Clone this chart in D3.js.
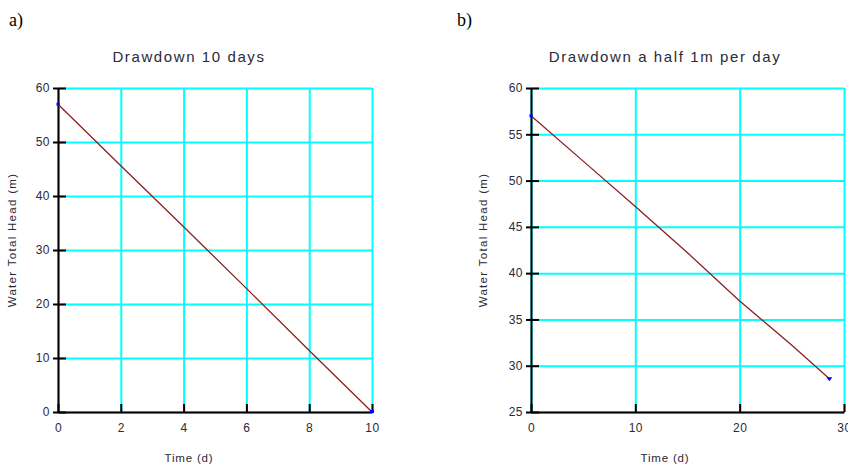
<!DOCTYPE html>
<html><head><meta charset="utf-8">
<script src="https://cdn.jsdelivr.net/npm/d3@7"></script>
<style>
body{margin:0;background:#fff;}
svg{display:block;}
text{font-family:"Liberation Sans",Arial,sans-serif;fill:#2a2a3a;}
</style></head>
<body>
<svg id="c" width="848" height="466"></svg>
<script>
// Panel a: Drawdown 10 days
const panelATitle = "Drawdown 10 days";
const panelATime = [0, 2, 4, 6, 8, 10];
const panelAHead = [57, 45.6, 34.3, 22.9, 11.4, 0];
const panelAXTicks = [0, 2, 4, 6, 8, 10];
const panelAYTicks = [0, 10, 20, 30, 40, 50, 60];
// Panel b: Drawdown a half 1m per day
const panelBTitle = "Drawdown a half 1m per day";
const panelBTime = [0, 5, 10, 15, 20, 25, 28.6];
const panelBHead = [57, 52.1, 47.2, 42.2, 37, 32.2, 28.6];
const panelBXTicks = [0, 10, 20, 30];
const panelBYTicks = [25, 30, 35, 40, 45, 50, 55, 60];
const xLabel = "Time (d)";
const yLabel = "Water Total Head (m)";
const panelLetters = ["a)", "b)"];

const svg = d3.select("#c");
const CYAN = "#00ffff", LINE = "#8b2020", MARK = "#0000ff";

function panel(o) {
  const g = svg.append("g");
  const x = d3.scaleLinear().domain(o.xDom).range([o.left, o.right]);
  const y = d3.scaleLinear().domain(o.yDom).range([o.bottom, o.top]);
  // grid
  g.append("g").attr("transform", `translate(${o.left},0)`)
    .call(d3.axisRight(y).tickValues(o.yTicks).tickSize(o.right - o.left).tickFormat(""))
    .call(s => { s.select(".domain").remove(); s.selectAll("line").attr("stroke", CYAN).attr("stroke-width", 2); });
  g.append("g").attr("transform", `translate(0,${o.bottom})`)
    .call(d3.axisTop(x).tickValues(o.xTicks).tickSize(o.bottom - o.top).tickFormat(""))
    .call(s => { s.select(".domain").remove(); s.selectAll("line").attr("stroke", CYAN).attr("stroke-width", 2); });
  // y axis: outward ticks with labels
  g.append("g").attr("transform", `translate(${o.left},0)`)
    .call(d3.axisLeft(y).tickValues(o.yTicks).tickSize(5).tickPadding(3).tickSizeOuter(0))
    .call(s => {
      s.select(".domain").attr("stroke", "#000").attr("stroke-width", 2);
      s.selectAll("line").attr("stroke", "#000").attr("stroke-width", 2);
      s.selectAll("text").style("font-size", "12px").style("letter-spacing", "0.5px")
        .style("font-family", '"Liberation Sans",Arial,sans-serif').attr("fill", "#2a2a3a");
    });
  // y axis inward ticks
  g.append("g").attr("transform", `translate(${o.left},0)`)
    .call(d3.axisRight(y).tickValues(o.yTicks).tickSize(8).tickFormat("").tickSizeOuter(0))
    .call(s => { s.select(".domain").remove(); s.selectAll("line").attr("stroke", "#000").attr("stroke-width", 2); });
  // x axis inward ticks + domain
  g.append("g").attr("transform", `translate(0,${o.bottom})`)
    .call(d3.axisTop(x).tickValues(o.xTicks).tickSize(8).tickFormat("").tickSizeOuter(0))
    .call(s => {
      s.select(".domain").attr("stroke", "#000").attr("stroke-width", 2);
      s.selectAll("line").attr("stroke", "#000").attr("stroke-width", 2);
    });
  // x labels
  g.append("g").attr("transform", `translate(0,${o.bottom})`)
    .call(d3.axisBottom(x).tickValues(o.xTicks).tickSize(0).tickPadding(11))
    .call(s => {
      s.select(".domain").remove();
      s.selectAll("text").style("font-size", "12px").style("letter-spacing", "0.5px")
        .style("font-family", '"Liberation Sans",Arial,sans-serif').attr("fill", "#2a2a3a");
    });
  // line
  const pts = o.xs.map((v, i) => [v, o.ys[i]]);
  g.append("path").datum(pts)
    .attr("d", d3.line().x(d => x(d[0])).y(d => y(d[1])))
    .attr("fill", "none").attr("stroke", LINE).attr("stroke-width", 1.3);
  // markers
  const first = pts[0], last = pts[pts.length - 1];
  g.append("rect").attr("x", x(first[0]) - 1.5).attr("y", y(first[1]) - 1.5)
    .attr("width", 3).attr("height", 3).attr("fill", MARK);
  if (o.endTri) {
    const cx = x(last[0]), cy = y(last[1]);
    g.append("path").attr("d", `M${cx-3},${cy-1.5}L${cx+3},${cy-1.5}L${cx},${cy+2.5}Z`).attr("fill", MARK);
  } else {
    g.append("rect").attr("x", x(last[0]) - 2).attr("y", y(last[1]) - 2)
      .attr("width", 4).attr("height", 3).attr("fill", MARK);
  }
  // texts
  g.append("text").attr("x", o.cx).attr("y", 62).attr("text-anchor", "middle")
    .style("font-size", "15px").style("letter-spacing", "1.6px").text(o.title);
  g.append("text").attr("x", o.cx).attr("y", 462).attr("text-anchor", "middle")
    .style("font-size", "11.5px").style("letter-spacing", "0.8px").text(xLabel);
  g.append("text").attr("transform", `translate(${o.ylx},240) rotate(-90)`).attr("text-anchor", "middle")
    .style("font-size", "11.5px").style("letter-spacing", "1.3px").text(yLabel);
  g.append("text").attr("x", o.letterX).attr("y", 26)
    .style("font-family", '"Liberation Serif","Times New Roman",serif').style("font-size", "18px")
    .attr("fill", "#000").style("fill", "#000").text(o.letter);
}

panel({xDom: [0, 10], yDom: [0, 60], left: 58, right: 372, top: 88, bottom: 412,
  xTicks: panelAXTicks, yTicks: panelAYTicks, xs: panelATime, ys: panelAHead,
  title: panelATitle, cx: 189, ylx: 16, letter: panelLetters[0], letterX: 9, endTri: false});
panel({xDom: [0, 30], yDom: [25, 60], left: 531, right: 844, top: 88, bottom: 412,
  xTicks: panelBXTicks, yTicks: panelBYTicks, xs: panelBTime, ys: panelBHead,
  title: panelBTitle, cx: 665, ylx: 487, letter: panelLetters[1], letterX: 457, endTri: true});
</script>
</body></html>
